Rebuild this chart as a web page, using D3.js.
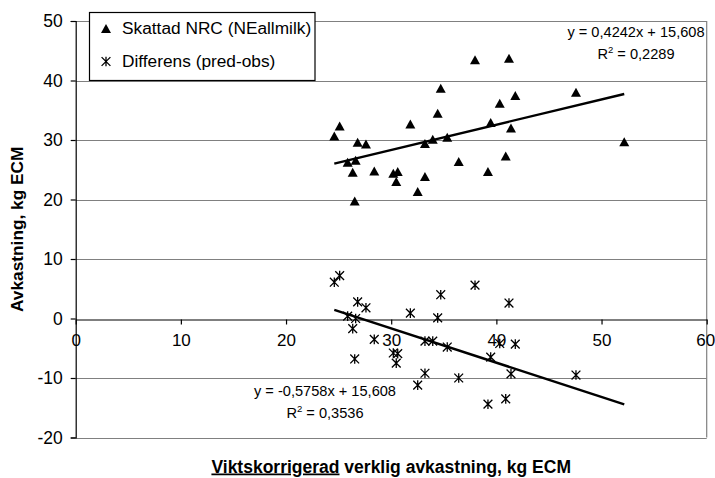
<!DOCTYPE html>
<html>
<head>
<meta charset="utf-8">
<script src="https://cdn.jsdelivr.net/npm/d3@7"></script>
<style>
  body { margin: 0; background: #fff; }
  text { font-family: Arial, "Liberation Sans", sans-serif; fill: #000; }
</style>
</head>
<body>
<svg id="chart" width="715" height="478"></svg>
<script>
// Viktskorrigerad verklig avkastning (kg ECM), one value per cow
const obs = [37.97, 34.71, 34.42, 31.82, 25.10, 24.59, 26.81, 27.60, 33.21, 33.95, 35.33,
             25.86, 26.62, 26.34, 28.39, 30.20, 30.62, 30.48, 33.21, 36.42, 32.52, 26.53,
             41.20, 41.80, 40.32, 47.57, 39.46, 41.39, 40.89, 39.20, 52.16];
// Skattad avkastning enligt NRC (NEallmilk)
const pred = [43.45, 38.69, 34.49, 32.69, 32.35, 30.67, 29.61, 29.33, 29.38, 30.12, 30.45,
              26.25, 26.59, 24.57, 24.79, 24.40, 24.67, 22.99, 23.83, 26.35, 21.31, 19.75,
              43.73, 37.45, 36.17, 38.02, 32.91, 32.02, 27.31, 24.67, 29.71];
// Differens (pred-obs)
const diff = [5.6, 4.0, 0.1, 0.9, 7.2, 6.1, 2.8, 1.8, -3.8, -3.8, -4.8,
              0.4, 0.0, -1.7, -3.5, -5.8, -5.9, -7.5, -9.2, -10.0, -11.2, -6.8,
              2.6, -4.3, -4.2, -9.5, -6.5, -9.3, -13.5, -14.4, -22.4];

const seriesNames = ["Skattad NRC (NEallmilk)", "Differens (pred-obs)"];
const xTicks = [0, 10, 20, 30, 40, 50, 60];
const yTicks = [-20, -10, 0, 10, 20, 30, 40, 50];
const predFit = { slope: 0.4242, intercept: 15.608, r2: 0.2289 };
const diffFit = { slope: -0.5758, intercept: 15.608, r2: 0.3536 };
const yTitle = "Avkastning, kg ECM";
const xTitleUnderlined = "Viktskorrigerad";
const xTitleRest = " verklig avkastning, kg ECM";

const svg = d3.select("#chart");
const x = d3.scaleLinear().domain([0, 60]).range([75.7, 706.7]);
const y = d3.scaleLinear().domain([-20, 50]).range([437.5, 21]);

const grid = "#808080";
const sv = v => String(v).replace(".", ",");

// horizontal gridlines (top and bottom double as the plot border)
svg.append("g").selectAll("line")
  .data(yTicks.filter(t => t !== 0))
  .join("line")
  .attr("x1", x(0)).attr("x2", x(60))
  .attr("y1", d => Math.round(y(d)) + 0.5).attr("y2", d => Math.round(y(d)) + 0.5)
  .attr("stroke", grid).attr("stroke-width", 1.2);

// right border of the plot area
svg.append("line")
  .attr("x1", x(60)).attr("x2", x(60))
  .attr("y1", y(50)).attr("y2", y(-20))
  .attr("stroke", grid).attr("stroke-width", 1.2);

// value axis
const yAxis = svg.append("g")
  .attr("transform", `translate(${x(0)},0)`)
  .call(d3.axisLeft(y).tickValues(yTicks).tickSize(5).tickPadding(8).tickFormat(d => d));
yAxis.select(".domain").attr("stroke", "#000").attr("stroke-width", 1.2);
yAxis.selectAll(".tick line").attr("stroke", "#000").attr("stroke-width", 1.2);
yAxis.selectAll(".tick text").style("font-size", "17.5px").attr("font-family", null);

// category axis crossing at zero
const xAxis = svg.append("g")
  .attr("transform", `translate(0,${Math.round(y(0)) + 0.5})`)
  .call(d3.axisBottom(x).tickValues(xTicks).tickSize(5).tickSizeOuter(0).tickPadding(9).tickFormat(d => d));
xAxis.select(".domain").attr("stroke", "#000").attr("stroke-width", 1.2);
xAxis.selectAll(".tick line").attr("stroke", "#000").attr("stroke-width", 1.2);
xAxis.selectAll(".tick text").style("font-size", "17px").attr("font-family", null)
  .attr("dx", d => d === 60 ? -1.5 : 0);

// plot clip
svg.append("clipPath").attr("id", "plotClip")
  .append("rect").attr("x", x(0)).attr("y", y(50))
  .attr("width", x(60) - x(0)).attr("height", y(-20) - y(50));

const plot = svg.append("g").attr("clip-path", "url(#plotClip)");

const triPath = "M0,-4.6L5,4.4L-5,4.4Z";
const starPath = "M-4.4,-4.4L4.4,4.4M-4.4,4.4L4.4,-4.4M0,-4.8V4.8";

plot.append("g").selectAll("path")
  .data(obs.map((o, i) => [o, pred[i]]))
  .join("path")
  .attr("d", triPath)
  .attr("transform", d => `translate(${x(d[0])},${y(d[1])})`)
  .attr("fill", "#000");

plot.append("g").selectAll("path")
  .data(obs.map((o, i) => [o, diff[i]]))
  .join("path")
  .attr("d", starPath)
  .attr("transform", d => `translate(${x(d[0])},${y(d[1])})`)
  .attr("fill", "none").attr("stroke", "#000").attr("stroke-width", 1.3);

// linear trend lines over the observed range
const [xmin, xmax] = d3.extent(obs);
[predFit, diffFit].forEach(f => {
  plot.append("line")
    .attr("x1", x(xmin)).attr("y1", y(f.slope * xmin + f.intercept))
    .attr("x2", x(xmax)).attr("y2", y(f.slope * xmax + f.intercept))
    .attr("stroke", "#000").attr("stroke-width", 2.4);
});

// trend equations
function equation(f, cx, by) {
  const g = svg.append("g").style("font-size", "14.6px");
  g.append("text").attr("x", cx).attr("y", by).attr("text-anchor", "middle")
    .text(`y = ${sv(f.slope)}x + ${sv(f.intercept)}`);
  const t = g.append("text").attr("x", cx).attr("y", by + 21.5).attr("text-anchor", "middle");
  t.append("tspan").text("R");
  t.append("tspan").attr("dy", -6).style("font-size", "9.5px").text("2");
  t.append("tspan").attr("dy", 6).text(` = ${sv(f.r2)}`);
}
equation(predFit, 636, 37);
equation(diffFit, 325, 396);

// legend
const lg = svg.append("g");
lg.append("rect").attr("x", 89.5).attr("y", 12.5).attr("width", 225.5).attr("height", 68)
  .attr("fill", "#fff").attr("stroke", "#000").attr("stroke-width", 1.2);
lg.append("path").attr("d", triPath).attr("transform", "translate(106,28.5)").attr("fill", "#000");
lg.append("path").attr("d", starPath).attr("transform", "translate(106,61.5)")
  .attr("fill", "none").attr("stroke", "#000").attr("stroke-width", 1.3);
lg.selectAll("text.lab").data(seriesNames).join("text").attr("class", "lab")
  .attr("x", 122).attr("y", (d, i) => 33.8 + i * 33)
  .style("font-size", "17.3px").text(d => d);

// axis titles
svg.append("text")
  .attr("transform", `translate(23,${(y(50) + y(-20)) / 2}) rotate(-90)`)
  .attr("text-anchor", "middle")
  .style("font-size", "17.3px").style("font-weight", "bold")
  .text(yTitle);

const xt = svg.append("text")
  .attr("x", (x(0) + x(60)) / 2).attr("y", 472.5)
  .attr("text-anchor", "middle")
  .style("font-size", "17.5px").style("font-weight", "bold");
xt.append("tspan").style("text-decoration", "underline").text(xTitleUnderlined);
xt.append("tspan").text(xTitleRest);
</script>
</body>
</html>
